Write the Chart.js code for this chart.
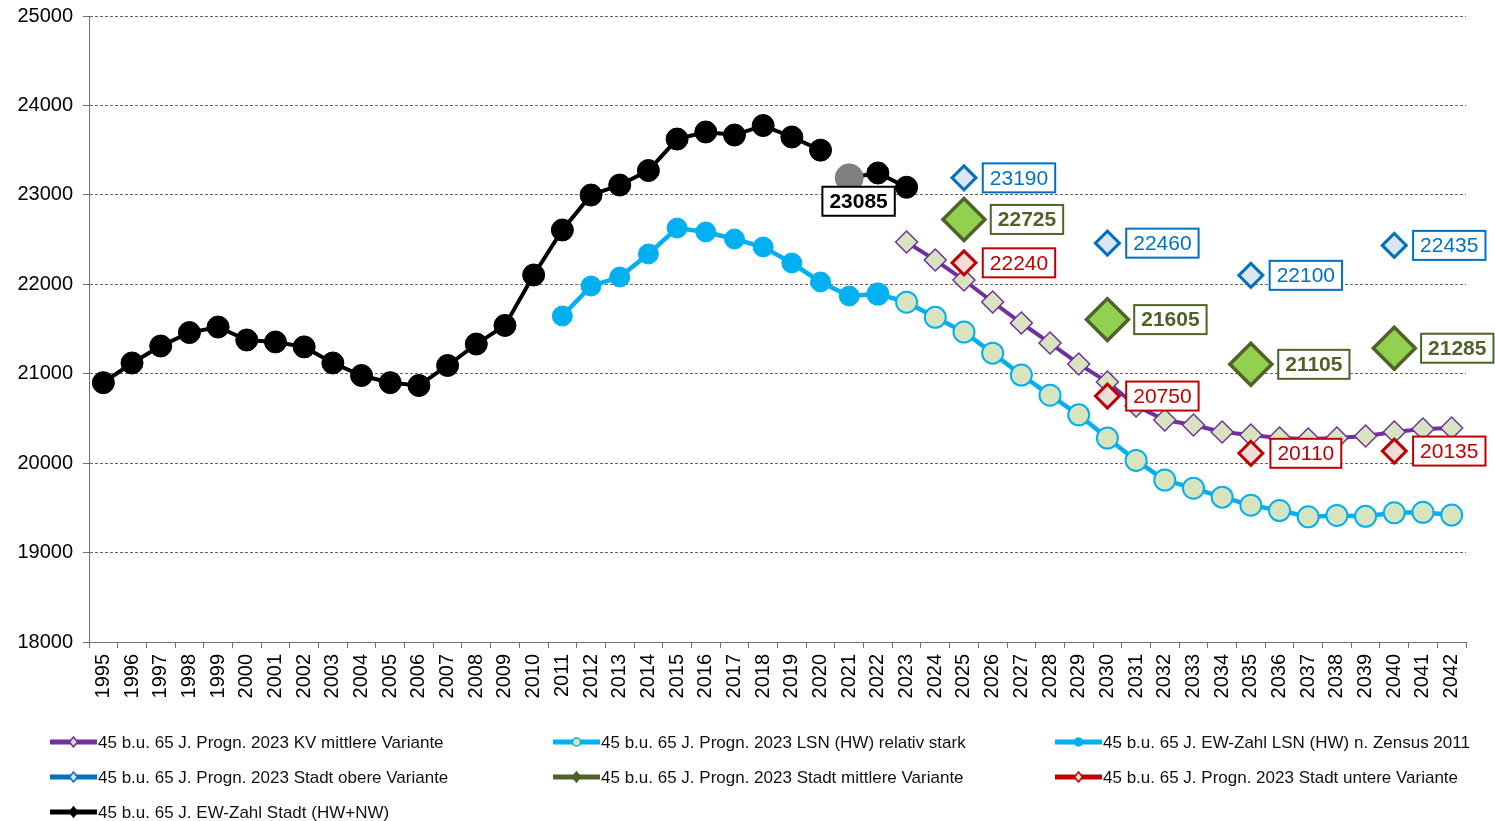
<!DOCTYPE html>
<html lang="de">
<head>
<meta charset="UTF-8">
<title>45 b.u. 65 J. - Entwicklung und Prognose</title>
<script src="https://cdn.jsdelivr.net/npm/chart.js"></script>
<style>
    body { margin: 0; background: #fff; }
    #wrap { position: relative; width: 1495px; height: 821px; }
</style>
</head>
<body>
<div id="wrap"><canvas id="chart"></canvas></div>
<script>
// Jahre (Kategorien der x-Achse)
const years = ['1995', '1996', '1997', '1998', '1999', '2000', '2001', '2002', '2003', '2004',
    '2005', '2006', '2007', '2008', '2009', '2010', '2011', '2012', '2013', '2014',
    '2015', '2016', '2017', '2018', '2019', '2020', '2021', '2022', '2023', '2024',
    '2025', '2026', '2027', '2028', '2029', '2030', '2031', '2032', '2033', '2034',
    '2035', '2036', '2037', '2038', '2039', '2040', '2041', '2042'];

// EW-Zahl Stadt (HW+NW), 1995-2023
const ewStadt = [20900, 21120, 21310, 21460, 21522, 21377, 21355, 21300, 21120, 20980,
    20900, 20868, 21092, 21332, 21540, 22104, 22607, 22998, 23110, 23272,
    23624, 23703, 23669, 23775, 23647, 23500, 23190, 23245, 23085];

// EW-Zahl LSN (HW) n. Zensus 2011, 2011-2022
const ewLsn = [21645, 21981, 22081, 22339, 22629, 22585, 22506, 22417, 22238, 22026, 21869, 21891];

// Progn. 2023 LSN (HW) relativ stark, 2022-2042
const lsnStark = [21891, 21800, 21630, 21466, 21230, 20985, 20760, 20540, 20281, 20030,
    19811, 19720, 19620, 19530, 19470, 19400, 19415, 19405, 19445, 19450, 19420];

// Progn. 2023 KV mittlere Variante, 2023-2042
const kvMittel = [22473, 22271, 22048, 21802, 21567, 21343, 21109, 20907, 20640, 20482,
    20426, 20348, 20315, 20281, 20270, 20281, 20303, 20348, 20382, 20393];

// Progn. 2023 Stadt (obere / mittlere / untere Variante)
const stadtYears = ['2025', '2030', '2035', '2040'];
const stadtOben = [23190, 22460, 22100, 22435];
const stadtMitte = [22725, 21605, 21105, 21285];
const stadtUnten = [22240, 20750, 20110, 20135];

const yMin = 18000, yMax = 25000, yStep = 1000;

const FONT = "'Liberation Sans', Arial, sans-serif";
Chart.defaults.font.family = FONT;
Chart.defaults.color = '#000';

function fromYear(start, values) {
    const i0 = years.indexOf(start);
    return values.map((v, i) => ({ x: years[i0 + i], y: v }));
}
function atYears(ys, values) {
    return values.map((v, i) => ({ x: ys[i], y: v }));
}

const GREY_IDX = 26; // 2021 im Stadt-Datensatz
const ewStadtFill = ewStadt.map((v, i) => i === GREY_IDX ? '#808080' : '#000');
const ewStadtRad = ewStadt.map((v, i) => i === GREY_IDX ? 14 : 11);

const datasets = [
    {
        label: '45 b.u. 65 J. Progn. 2023 KV mittlere Variante',
        data: fromYear('2023', kvMittel),
        borderColor: '#7030A0', borderWidth: 4,
        pointStyle: 'rectRot', pointRadius: 11, pointBorderWidth: 1.5,
        pointBackgroundColor: '#D7E4BD', pointBorderColor: '#7030A0',
        order: 6,
        legendMarker: { shape: 'diamond', fill: '#D7E4BD' }
    },
    {
        label: '45 b.u. 65 J. Progn. 2023 LSN (HW) relativ stark',
        data: fromYear('2022', lsnStark),
        borderColor: '#00B0F0', borderWidth: 4.5,
        pointStyle: 'circle', pointRadius: 10.5, pointBorderWidth: 2,
        pointBackgroundColor: '#D7E4BD', pointBorderColor: '#00B0F0',
        order: 5,
        legendMarker: { shape: 'circle', fill: '#D7E4BD' }
    },
    {
        label: '45 b.u. 65 J. EW-Zahl LSN (HW) n. Zensus 2011',
        data: fromYear('2011', ewLsn),
        borderColor: '#00B0F0', borderWidth: 4.5,
        pointStyle: 'circle', pointRadius: 10, pointBorderWidth: 1,
        pointBackgroundColor: '#00B0F0', pointBorderColor: '#00B0F0',
        order: 4,
        legendMarker: { shape: 'circle', fill: '#00B0F0' }
    },
    {
        label: '45 b.u. 65 J. Progn. 2023 Stadt obere Variante',
        data: atYears(stadtYears, stadtOben),
        showLine: false,
        borderColor: '#0070C0', borderWidth: 4,
        pointStyle: 'rectRot', pointRadius: 12, pointBorderWidth: 3,
        pointBackgroundColor: '#DCE6F2', pointBorderColor: '#0070C0',
        order: 3,
        legendMarker: { shape: 'diamond', fill: '#DCE6F2' },
        boxLabel: { color: '#0070C0', bold: false, dx: 55, dy: 0 }
    },
    {
        label: '45 b.u. 65 J. Progn. 2023 Stadt mittlere Variante',
        data: atYears(stadtYears, stadtMitte),
        showLine: false,
        borderColor: '#4F6228', borderWidth: 4,
        pointStyle: 'rectRot', pointRadius: 21, pointBorderWidth: 3.5,
        pointBackgroundColor: '#92D050', pointBorderColor: '#4F6228',
        order: 2,
        legendMarker: { shape: 'diamond', fill: '#4F6228' },
        boxLabel: { color: '#4F6228', bold: true, dx: 63, dy: 0 }
    },
    {
        label: '45 b.u. 65 J. Progn. 2023 Stadt untere Variante',
        data: atYears(stadtYears, stadtUnten),
        showLine: false,
        borderColor: '#C00000', borderWidth: 4,
        pointStyle: 'rectRot', pointRadius: 12, pointBorderWidth: 3,
        pointBackgroundColor: '#F2DCDB', pointBorderColor: '#C00000',
        order: 1,
        legendMarker: { shape: 'diamond', fill: '#F2DCDB' },
        boxLabel: { color: '#C00000', bold: false, dx: 55, dy: 0 }
    },
    {
        label: '45 b.u. 65 J. EW-Zahl Stadt (HW+NW)',
        data: fromYear('1995', ewStadt),
        borderColor: '#000', borderWidth: 4,
        pointStyle: 'circle', pointRadius: ewStadtRad, pointBorderWidth: 1,
        pointBackgroundColor: ewStadtFill, pointBorderColor: ewStadtFill,
        segment: {
            // keine Verbindung 2020 -> 2021
            borderColor: c => c.p0DataIndex === GREY_IDX - 1 ? 'rgba(0,0,0,0)' : undefined
        },
        order: 0,
        legendMarker: { shape: 'diamond', fill: '#000' },
        boxLabel: { color: '#000', bold: true, dx: -48, dy: 14, only: ewStadt.length - 1 }
    }
];

// Beschriftungen mit Rahmen an den Punkten
const boxLabels = {
    id: 'boxLabels',
    afterDatasetsDraw(chart) {
        const ctx = chart.ctx;
        chart.data.datasets.forEach((ds, di) => {
            const opt = ds.boxLabel;
            if (!opt) return;
            const meta = chart.getDatasetMeta(di);
            meta.data.forEach((pt, i) => {
                if (opt.only !== undefined && i !== opt.only) return;
                const txt = String(ds.data[i].y);
                ctx.save();
                ctx.font = (opt.bold ? 'bold ' : '') + '21px ' + FONT;
                const w = ctx.measureText(txt).width + 14;
                const h = 29;
                const cx = pt.x + opt.dx, cy = pt.y + opt.dy;
                ctx.fillStyle = '#fff';
                ctx.fillRect(cx - w / 2, cy - h / 2, w, h);
                ctx.strokeStyle = opt.color;
                ctx.lineWidth = 2;
                ctx.strokeRect(cx - w / 2, cy - h / 2, w, h);
                ctx.fillStyle = opt.color;
                ctx.textAlign = 'center';
                ctx.textBaseline = 'middle';
                ctx.fillText(txt, cx, cy + 1);
                ctx.restore();
            });
        });
    }
};

// Legende in drei Spalten
const gridLegend = {
    id: 'gridLegend',
    afterDraw(chart) {
        const ctx = chart.ctx;
        const cols = [50, 553, 1055];
        const rows = [742, 777, 812];
        chart.data.datasets.forEach((ds, i) => {
            const x = cols[i % 3], y = rows[Math.floor(i / 3)];
            ctx.save();
            ctx.strokeStyle = ds.borderColor;
            ctx.lineWidth = 5;
            ctx.beginPath();
            ctx.moveTo(x, y);
            ctx.lineTo(x + 47, y);
            ctx.stroke();
            const mx = x + 23.5, r = 4;
            ctx.fillStyle = ds.legendMarker.fill;
            ctx.strokeStyle = ds.borderColor;
            ctx.lineWidth = 1.5;
            ctx.beginPath();
            if (ds.legendMarker.shape === 'circle') {
                ctx.arc(mx, y, r, 0, Math.PI * 2);
            } else {
                ctx.moveTo(mx, y - r - 1);
                ctx.lineTo(mx + r, y);
                ctx.lineTo(mx, y + r + 1);
                ctx.lineTo(mx - r, y);
                ctx.closePath();
            }
            ctx.fill();
            ctx.stroke();
            ctx.fillStyle = '#111';
            ctx.font = '17px ' + FONT;
            ctx.textAlign = 'left';
            ctx.textBaseline = 'middle';
            ctx.fillText(ds.label, x + 48, y + 1);
            ctx.restore();
        });
    }
};

new Chart(document.getElementById('chart'), {
    type: 'line',
    data: { labels: years, datasets: datasets },
    options: {
        responsive: true,
        maintainAspectRatio: false,
        animation: false,
        events: [],
        layout: {
            // die großen Rauten sollen den Plotbereich nicht verkleinern
            autoPadding: false,
            padding: { left: 0, right: 29, top: 16, bottom: 109 }
        },
        plugins: {
            legend: { display: false },
            tooltip: { enabled: false }
        },
        scales: {
            x: {
                type: 'category',
                offset: true,
                grid: {
                    offset: true,
                    drawOnChartArea: false,
                    drawTicks: true,
                    tickLength: 6,
                    color: '#707070'
                },
                border: { color: '#707070', width: 1 },
                ticks: {
                    autoSkip: false,
                    minRotation: 90,
                    maxRotation: 90,
                    padding: 6,
                    font: { size: 20 },
                    color: '#000'
                },
                afterFit(s) { s.height = 70; }
            },
            y: {
                min: yMin,
                max: yMax,
                ticks: {
                    stepSize: yStep,
                    padding: 10,
                    font: { size: 20, lineHeight: 0.6 },
                    color: '#000',
                    callback: v => String(v)
                },
                grid: {
                    color: '#666',
                    lineWidth: 1,
                    tickLength: 6,
                    tickColor: '#707070',
                    tickBorderDash: []
                },
                border: { color: '#707070', width: 1, dash: [3, 2] },
                afterFit(s) { s.width = 89; }
            }
        }
    },
    plugins: [boxLabels, gridLegend]
});
</script>
</body>
</html>
